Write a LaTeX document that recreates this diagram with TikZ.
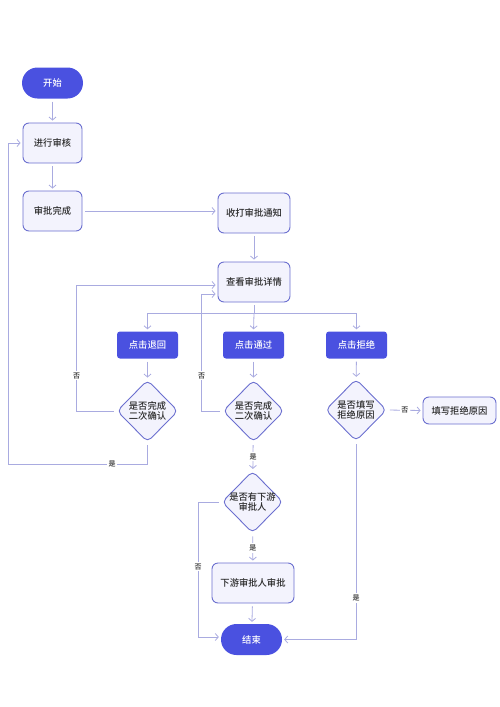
\documentclass[tikz,border=0pt]{standalone}
\usepackage{fontspec}
\setmainfont{Noto Sans CJK SC}[UprightFont=* Medium]
\usepackage{tikz}
\usetikzlibrary{shapes.geometric,arrows.meta}
\definecolor{flowblue}{HTML}{4A51E0}
\definecolor{boxfill}{HTML}{F3F3FD}
\definecolor{boxline}{HTML}{6B6FCF}
\definecolor{wireblue}{HTML}{A9ABE0}
\definecolor{ink}{HTML}{2B2B2B}

\begin{document}
\begin{tikzpicture}
[x=1pt, y=-1pt,
every node/.style = {align=center, font=\fontsize{9.3}{10.5}\selectfont, text=ink},
terminal/.style = {rounded corners=15.5pt, fill=flowblue, text=white,
	minimum width=61pt, minimum height=31pt, inner sep=0pt},
task/.style = {rounded corners=6pt, draw=boxline, fill=boxfill, line width=0.9pt,
	minimum width=59pt, minimum height=40pt, inner sep=0pt},
action/.style = {rounded corners=3pt, fill=flowblue, text=white,
	minimum width=61pt, minimum height=27pt, inner sep=0pt},
decision/.style = {diamond, rounded corners=5pt, draw=boxline, fill=boxfill, line width=0.9pt,
	minimum width=61pt, minimum height=62pt, inner sep=0pt},
wire/.style = {draw=wireblue, line width=0.8pt},
flow/.style = {wire, -{Straight Barb[length=3pt,width=7pt]}, shorten >=2pt, shorten <=3pt},
tag/.style = {fill=white, font=\fontsize{7}{8}\selectfont, inner sep=1.5pt},
]
\useasboundingbox (0,0) rectangle (500,707);

\node[terminal] (start) at (52.5,83) {开始};
\node[task] (review) at (52.5,143) {进行审核};
\node[task] (done) at (52.5,211) {审批完成};
\node[task, minimum width=72pt] (notify) at (254,213) {收打审批通知};
\node[task, minimum width=72pt] (detail) at (254,282) {查看审批详情};
\node[action] (back) at (147.5,345) {点击退回};
\node[action] (pass) at (253.5,345) {点击通过};
\node[action] (reject) at (356.5,345) {点击拒绝};
\node[decision, label={center:{是否完成\\二次确认}}] (check1) at (147.5,411) {};
\node[decision, label={center:{是否完成\\二次确认}}] (check2) at (253.5,411) {};
\node[decision, label={center:{是否填写\\拒绝原因}}] (check3) at (356,410) {};
\node[task, minimum width=73pt, minimum height=27pt] (reason) at (459.5,410.5) {填写拒绝原因};
\node[decision, label={center:{是否有下游\\审批人}}] (next) at (252.5,502) {};
\node[task, minimum width=82pt] (downstream) at (253,583) {下游审批人审批};
\node[terminal] (end) at (251.5,639.5) {结束};

\draw[flow] (start) -- (review);
\draw[flow] (review) -- (done);
\draw[flow] (done.east) -- (done.east -| notify.west);
\draw[flow] (notify) -- (detail);
\draw[wire, shorten <=3pt] (detail.south) -- ++(0,11) coordinate (fork);
\draw[flow, shorten <=0pt] (fork) -| (back.north);
\draw[flow, shorten <=0pt] (fork) -- (pass.north);
\draw[flow, shorten <=0pt] (fork) -| (reject.north);
\draw[flow] (back) -- (check1);
\draw[flow] (pass) -- (check2);
\draw[flow] (reject) -- (check3);

% loops back
\draw[flow] (check1.west) -- ++(-40,0) |- ([yshift=-3pt]detail.west) node[tag, pos=0.14]{否};
\draw[flow] (check2.west) -- ++(-21,0) |- ([yshift=-12pt]detail.west) node[tag, pos=0.15]{否};
\draw[flow] (check1.south) |- (8,464) node[tag, pos=0.627]{是} |- (review.west);

\draw[flow] (check2) -- (next) node[tag, midway]{是};
\draw[flow] (next) -- (downstream) node[tag, midway]{是};
\draw[flow] (downstream) -- (end);
\draw[flow] (next.west) -- ++(-23.5,0) |- ([yshift=2.5pt]end.west) node[tag, pos=0.24]{否};
\draw[flow] (check3.south) |- (end.east) node[tag, pos=0.395]{是};
\draw[flow] (check3.east) -- (reason.west) node[tag, midway]{否};

\end{tikzpicture}
\end{document}
